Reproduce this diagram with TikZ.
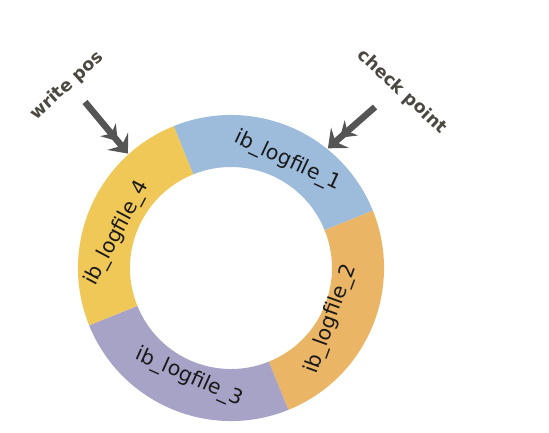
\documentclass[tikz,border=0pt]{standalone}
\usepackage{fontspec}
\setmainfont{DejaVu Sans}
\usetikzlibrary{arrows.meta, positioning, calc}

\definecolor{logblue}{HTML}{9DBBDB}
\definecolor{logorange}{HTML}{EAB564}
\definecolor{logpurple}{HTML}{A7A3C6}
\definecolor{logyellow}{HTML}{F0C857}
\definecolor{pointergray}{HTML}{555555}
\definecolor{tagtext}{HTML}{4B4842}

\begin{document}
\begin{tikzpicture}[
  x=1pt, y=1pt,
  seglabel/.style={font=\fontsize{20.5}{20.5}\selectfont, text=black!90, inner sep=0pt},
  tag/.style={font=\bfseries\fontsize{17.5}{17.5}\selectfont, text=tagtext, inner sep=0pt},
  pointer/.style={-{Stealth[length=15pt,width=20pt,inset=5pt]Stealth[length=16pt,width=27pt,inset=6pt]}, line width=6.5pt, draw=pointergray}
  ]
  \useasboundingbox (0,0) rectangle (549,-432);
  \coordinate (c) at (231,-268);
  % ring of log files
  \fill[logblue] ([shift={(22:153)}]c) arc[start angle=22, end angle=112, radius=153]
    -- ([shift={(112:101)}]c) arc[start angle=112, end angle=22, radius=101] -- cycle;
  \fill[logorange] ([shift={(-68:153)}]c) arc[start angle=-68, end angle=22, radius=153]
    -- ([shift={(22:101)}]c) arc[start angle=22, end angle=-68, radius=101] -- cycle;
  \fill[logpurple] ([shift={(-158:153)}]c) arc[start angle=-158, end angle=-68, radius=153]
    -- ([shift={(-68:101)}]c) arc[start angle=-68, end angle=-158, radius=101] -- cycle;
  \fill[logyellow] ([shift={(112:153)}]c) arc[start angle=112, end angle=202, radius=153]
    -- ([shift={(202:101)}]c) arc[start angle=202, end angle=112, radius=101] -- cycle;
  \node[seglabel, rotate=-25] (f1) at ([shift={(62:121)}]c) {ib\_logfile\_1};
  \node[seglabel, rotate=70] (f2) at ([shift={(-27:112)}]c) {ib\_logfile\_2};
  \node[seglabel, rotate=-24] (f3) at ([shift={(-111:117)}]c) {ib\_logfile\_3};
  \node[seglabel, rotate=62] (f4) at ([shift={(163:119)}]c) {ib\_logfile\_4};
  % pointers
  \node[tag, rotate=42] (wp) at (67,-86) {write pos};
  \node[tag, rotate=-43] (cp) at (402,-92) {check point};
  \coordinate (wp tail) at (85,-102);
  \coordinate (wp tip) at ([shift={(132:154)}]c);
  \coordinate (cp tail) at (375,-107);
  \coordinate (cp tip) at ([shift={(51:154)}]c);
  \draw[pointer] (wp tail) -- (wp tip);
  \draw[pointer] (cp tail) -- (cp tip);
\end{tikzpicture}
\end{document}
